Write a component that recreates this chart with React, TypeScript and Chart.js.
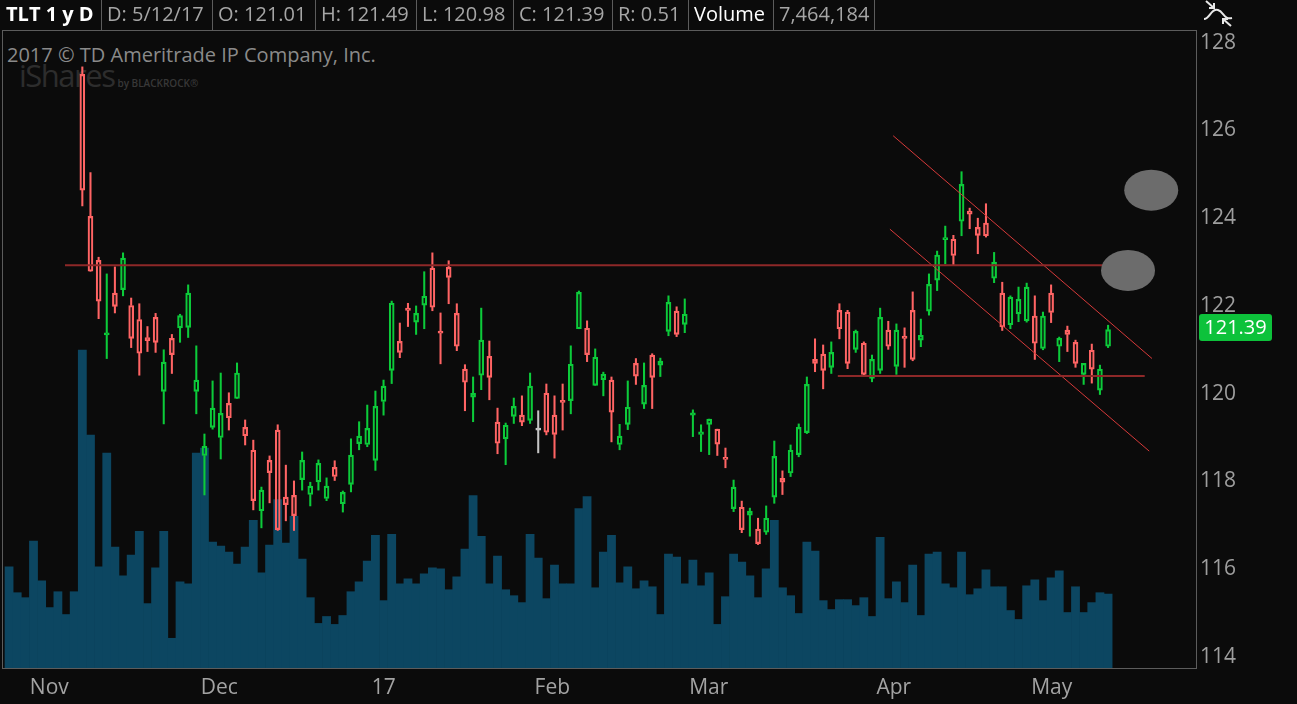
import React, { useEffect, useRef } from 'react';
import { Chart, registerables } from 'chart.js';

Chart.register(...registerables);

// TLT daily, 10/27/16 .. 5/12/17 (136 sessions). First 9 candles trade above 128 -> off the chart.
const lastDate = '5/12/17';

const opens = [
  null, null, null, null, null, null, null, null, null,
  127.21, 123.97, 122.97, 121.27, 122.22, 122.30, 121.94, 121.62, 121.21, 121.67,
  119.98, 121.19, 121.43, 121.44, 119.98, 118.52, 119.16, 118.93, 119.71, 119.82,
  119.16, 118.64, 117.26, 118.41, 119.10, 117.57, 117.61, 117.97, 117.63, 117.92,
  117.54, 118.25, 117.42, 117.86, 118.79, 118.77, 118.41, 119.75, 120.46, 121.12,
  121.88, 121.56, 121.95, 122.79, 121.34, 122.81, 121.76, 120.49, 119.85, 120.35,
  120.78, 119.28, 118.90, 119.41, 119.44, 119.32, 119.10, 119.94, 119.44, 119.76,
  119.77, 121.41, 121.42, 120.12, 120.25, 120.24, 118.77, 119.23, 120.62, 119.69,
  120.81, 120.58, 121.35, 121.81, 121.51, 119.44, 119.00, 119.23, 119.12, 118.48,
  117.31, 117.34, 117.16, 116.84, 116.77, 117.57, 118.00, 118.12, 118.54, 119.04,
  120.71, 120.83, 120.53, 121.83, 121.79, 120.94, 121.08, 120.28, 120.46, 121.38,
  120.55, 121.24, 121.83, 121.15, 121.81, 122.52, 123.44, 123.45, 123.86, 124.09,
  123.72, 123.82, 122.56, 122.22, 121.50, 121.75, 121.59, 121.70, 120.96, 122.22,
  121.01, 121.38, 121.10, 120.37, 120.92, 120.01, 121.01,
];

const highs = [
  null, null, null, null, null, null, null, null, null,
  127.38, 124.97, 123.04, 122.66, 122.82, 123.14, 122.11, 121.98, 121.46, 121.76,
  120.93, 121.28, 121.74, 122.41, 121.02, 119.01, 120.22, 120.40, 119.95, 120.63,
  119.33, 118.87, 117.80, 118.51, 119.22, 118.30, 117.94, 118.60, 117.91, 118.42,
  118.01, 118.40, 117.71, 118.90, 119.29, 119.67, 119.99, 120.24, 122.04, 121.54,
  121.99, 121.93, 122.71, 123.14, 121.77, 122.96, 121.98, 120.59, 120.31, 121.88,
  121.13, 119.60, 119.26, 119.83, 119.88, 120.40, 119.54, 120.15, 119.88, 120.15,
  121.02, 122.27, 121.59, 120.95, 120.42, 120.31, 119.23, 120.22, 120.73, 120.63,
  120.84, 120.74, 122.16, 121.91, 122.09, 119.56, 119.22, 119.35, 119.12, 118.69,
  117.96, 117.48, 117.32, 117.09, 117.37, 118.85, 118.17, 118.76, 119.24, 120.31,
  121.18, 121.04, 121.11, 121.98, 121.83, 121.38, 121.11, 120.81, 121.88, 121.58,
  121.52, 121.43, 122.25, 121.63, 122.66, 123.18, 123.75, 123.54, 124.99, 124.16,
  123.93, 124.26, 123.15, 122.47, 122.16, 122.36, 122.45, 122.16, 121.79, 122.41,
  121.22, 121.47, 121.15, 120.62, 121.06, 120.58, 121.49,
];

const lows = [
  null, null, null, null, null, null, null, null, null,
  124.21, 122.72, 121.64, 120.73, 121.77, 122.16, 120.98, 120.35, 120.89, 120.87,
  119.24, 120.39, 121.10, 121.21, 119.47, 117.62, 119.12, 118.44, 119.10, 119.82,
  118.76, 117.28, 116.87, 117.44, 116.81, 117.03, 116.81, 117.73, 117.37, 117.73,
  117.49, 117.95, 117.23, 117.69, 118.65, 118.72, 118.18, 119.44, 120.16, 120.75,
  121.46, 121.28, 121.41, 121.82, 120.61, 121.98, 120.91, 119.54, 119.29, 120.02,
  119.79, 118.56, 118.31, 119.25, 119.20, 119.25, 118.58, 118.99, 118.46, 119.10,
  119.47, 121.41, 120.66, 120.12, 119.88, 118.83, 118.65, 119.11, 120.14, 119.59,
  119.59, 120.32, 121.25, 121.23, 121.32, 118.95, 118.61, 118.54, 118.52, 118.24,
  117.24, 116.76, 116.68, 116.49, 116.72, 117.43, 117.63, 118.04, 118.49, 119.02,
  120.43, 120.04, 120.39, 121.18, 120.50, 120.87, 120.32, 120.20, 120.39, 120.94,
  120.37, 120.53, 120.68, 121.00, 121.72, 122.28, 122.89, 122.85, 123.53, 123.69,
  123.12, 123.50, 122.46, 121.37, 121.41, 121.57, 121.56, 120.71, 120.93, 121.55,
  120.66, 120.89, 120.53, 120.14, 120.17, 119.91, 120.98,
];

const closes = [
  null, null, null, null, null, null, null, null, null,
  124.57, 122.72, 122.04, 121.31, 121.92, 123.02, 121.19, 120.85, 121.14, 121.10,
  120.65, 120.82, 121.71, 122.22, 120.24, 118.73, 119.60, 119.48, 119.38, 120.40,
  118.97, 117.49, 117.73, 118.13, 116.83, 117.40, 117.15, 118.41, 117.82, 118.34,
  117.82, 118.04, 117.68, 118.53, 118.96, 119.14, 119.64, 120.10, 121.99, 120.87,
  121.83, 121.76, 122.15, 121.90, 121.31, 122.58, 121.01, 120.19, 119.94, 121.15,
  120.30, 118.80, 119.21, 119.64, 119.28, 120.10, 119.10, 119.05, 119.00, 119.73,
  120.60, 122.24, 120.82, 120.76, 120.37, 119.51, 118.96, 119.62, 120.33, 120.12,
  120.30, 120.67, 122.01, 121.28, 121.74, 119.49, 119.06, 119.35, 118.78, 118.43,
  117.80, 116.83, 117.25, 116.51, 117.09, 118.50, 117.91, 118.64, 119.16, 120.14,
  120.62, 120.46, 120.87, 121.41, 120.62, 121.35, 120.37, 120.71, 121.67, 121.01,
  121.38, 121.19, 120.71, 121.26, 122.42, 123.09, 123.48, 123.08, 124.70, 124.02,
  123.54, 123.53, 122.93, 121.45, 122.13, 122.08, 122.36, 121.08, 121.70, 121.78,
  121.19, 121.28, 120.62, 120.62, 120.49, 120.49, 121.39,
];

// volume in millions of shares
const volumesM = [
  10.2, 7.6, 7.1, 12.8, 8.8, 6.1, 7.7, 5.4, 7.7, 32.1,
  23.5, 10.2, 21.7, 12.2, 9.3, 11.4, 13.8, 6.5, 10.1, 13.8,
  3.0, 8.7, 8.5, 21.7, 22.2, 12.7, 12.3, 11.7, 10.5, 12.2,
  14.9, 9.6, 12.4, 17.0, 12.6, 15.3, 11.0, 7.1, 4.5, 5.2,
  4.4, 5.3, 7.7, 8.7, 10.8, 13.4, 6.8, 13.5, 8.5, 9.0,
  8.5, 9.5, 10.1, 10.0, 7.9, 9.2, 12.0, 17.4, 13.3, 8.5,
  11.3, 7.9, 7.3, 6.6, 13.5, 11.1, 7.0, 10.4, 8.5, 8.5,
  16.1, 17.3, 8.1, 11.7, 13.4, 8.6, 10.2, 8.0, 8.8, 8.2,
  5.4, 11.5, 11.2, 8.5, 10.9, 8.3, 9.6, 4.4, 7.2, 11.5,
  10.7, 9.3, 7.1, 10.0, 14.9, 8.1, 7.3, 5.5, 12.7, 11.8,
  6.8, 5.9, 6.9, 6.9, 6.3, 7.1, 5.2, 13.2, 7.0, 8.7,
  6.6, 10.4, 5.3, 11.5, 11.7, 8.5, 8.1, 11.7, 7.4, 8.0,
  9.9, 8.2, 8.2, 5.8, 4.9, 8.3, 8.9, 6.8, 9.1, 9.8,
  5.6, 8.2, 5.6, 6.6, 7.6, 7.464184,
];

// first session of each month (bar index) and its label
const monthIdx = [3, 24, 45, 65, 84, 107, 126];
const monthLabels = ['Nov', 'Dec', '17', 'Feb', 'Mar', 'Apr', 'May'];
const priceTicks = [114, 116, 118, 120, 122, 124, 126, 128];

// drawings: [bar index, price]
const resistance = [[6.87, 122.86], [138.7, 122.86]];
const support = [[101.8, 120.33], [139.5, 120.33]];
const channelTop = [[108.6, 125.81], [140.4, 120.73]];
const channelBottom = [[108.2, 123.68], [140.05, 118.62]];
const targets = [[140.3, 124.57], [137.45, 122.74]];

const UP = '#0ccb3a';
const DOWN = '#ff6464';
const FLAT = '#c4c4c4';
const VOL = '#0c4661';
const FONT = "'Open Sans', 'Noto Sans', sans-serif";

const last = closes.length - 1;

const candleColor = (i: number) =>
  (closes[i] as number) > (opens[i] as number) ? UP : (closes[i] as number) < (opens[i] as number) ? DOWN : FLAT;

const overlayPlugin = {
  id: 'overlay',
  afterDatasetsDraw(chart: any) {
    const { ctx, scales: { x, y } } = chart;
    ctx.save();
    ctx.fillStyle = '#6c6c6c';
    targets.forEach(([ix, p]) => {
      ctx.beginPath();
      ctx.ellipse(x.getPixelForValue(ix), y.getPixelForValue(p), 27, 20.5, 0, 0, Math.PI * 2);
      ctx.fill();
    });
    ctx.restore();
  },
  afterDraw(chart: any) {
    const { ctx, chartArea: a, scales: { y } } = chart;
    ctx.save();
    ctx.strokeStyle = '#5c5c5c';
    ctx.lineWidth = 1;
    ctx.strokeRect(a.left - 0.5, a.top - 0.5, a.right - a.left + 1, a.bottom - a.top + 1);

    const c = closes[last] as number;
    const cy = y.getPixelForValue(c) - 2;
    ctx.fillStyle = '#0dc23b';
    ctx.beginPath();
    ctx.roundRect(a.right + 3, cy - 13.5, 73, 27, 3);
    ctx.fill();
    ctx.fillStyle = '#ffffff';
    ctx.font = `20px ${FONT}`;
    ctx.textAlign = 'center';
    ctx.textBaseline = 'middle';
    ctx.fillText(c.toFixed(2), a.right + 39.5, cy + 1);
    ctx.restore();
  },
};

const toPts = (pts: number[][]) => pts.map(([x, y]) => ({ x, y }));

const TltChart: React.FC = () => {
  const canvasRef = useRef<HTMLCanvasElement>(null);
  const chartRef = useRef<any>(null);

  useEffect(() => {
    document.body.style.margin = '0';
    document.body.style.background = '#0b0b0b';
    if (chartRef.current) chartRef.current.destroy();
    if (!canvasRef.current) return;

    Chart.defaults.font.family = FONT;

    const idx = opens.map((_, i) => i).filter(i => opens[i] !== null);
    const colors = idx.map(candleColor);

    const bodies = idx.map(i => ({ x: i, y: [opens[i], closes[i]] }));
    const upperWicks = idx.map(i => ({ x: i, y: [Math.max(opens[i] as number, closes[i] as number), highs[i]] }));
    const lowerWicks = idx.map(i => ({ x: i, y: [lows[i], Math.min(opens[i] as number, closes[i] as number)] }));
    const volume = volumesM.map((v, i) => ({ x: i, y: v }));

    const line = (data: number[][], color: string, width: number) => ({
      type: 'line' as const,
      data: toPts(data),
      borderColor: color,
      borderWidth: width,
      pointRadius: 0,
      yAxisID: 'y',
      order: 0,
    });

    chartRef.current = new Chart(canvasRef.current, {
      type: 'bar',
      data: {
        datasets: [
          line(resistance, '#8e2828', 2),
          line(support, '#8e2828', 2),
          line(channelTop, '#d63a3a', 1),
          line(channelBottom, '#d63a3a', 1),
          {
            data: bodies as any,
            backgroundColor: 'rgba(0,0,0,0)',
            borderColor: colors,
            borderWidth: 1.5,
            borderSkipped: false,
            barThickness: 5,
            minBarLength: 2,
            grouped: false,
            yAxisID: 'y',
            order: 1,
          },
          {
            data: upperWicks as any,
            backgroundColor: colors,
            borderWidth: 0,
            barThickness: 1.4,
            grouped: false,
            yAxisID: 'y',
            order: 2,
          },
          {
            data: lowerWicks as any,
            backgroundColor: colors,
            borderWidth: 0,
            barThickness: 1.4,
            grouped: false,
            yAxisID: 'y',
            order: 2,
          },
          {
            data: volume as any,
            backgroundColor: VOL,
            borderWidth: 0,
            barPercentage: 1,
            categoryPercentage: 1,
            grouped: false,
            yAxisID: 'yv',
            order: 3,
          },
        ] as any,
      },
      options: {
        animation: false,
        responsive: false,
        events: [],
        layout: { padding: { left: 3, top: 31, right: 0, bottom: 0 } },
        plugins: { legend: { display: false }, tooltip: { enabled: false } },
        scales: {
          x: {
            type: 'linear',
            min: -0.745,
            max: 145.8,
            offset: false,
            grid: { display: false, drawTicks: false },
            border: { display: false },
            afterBuildTicks: (s: any) => { s.ticks = monthIdx.map(i => ({ value: i - 0.45 })); },
            afterFit: (s: any) => { s.height = 36; },
            ticks: {
              autoSkip: false,
              maxRotation: 0,
              minRotation: 0,
              align: 'start',
              padding: 7,
              color: '#a3a3a3',
              font: { size: 21 },
              callback: (_v: any, i: number) => monthLabels[i],
            },
          },
          y: {
            type: 'linear',
            position: 'right',
            min: 113.675,
            max: 128.198,
            grid: { display: false, drawTicks: false },
            border: { display: false },
            afterBuildTicks: (s: any) => { s.ticks = priceTicks.map(v => ({ value: v })); },
            afterFit: (s: any) => { s.width = 101; },
            ticks: {
              padding: 4,
              labelOffset: 3,
              color: '#9e9e9e',
              font: { size: 21 },
              callback: (v: any) => String(v),
            },
          },
          yv: { type: 'linear', display: false, min: 0, max: 64.3 },
        },
      } as any,
      plugins: [overlayPlugin],
    });

    return () => {
      if (chartRef.current) chartRef.current.destroy();
      chartRef.current = null;
    };
  }, []);

  const o = opens[last] as number;
  const h = highs[last] as number;
  const l = lows[last] as number;
  const c = closes[last] as number;
  const header = [
    { text: 'TLT 1 y D', w: 102, bold: true, color: '#ffffff' },
    { text: `D: ${lastDate}`, w: 111 },
    { text: `O: ${o.toFixed(2)}`, w: 103 },
    { text: `H: ${h.toFixed(2)}`, w: 101 },
    { text: `L: ${l.toFixed(2)}`, w: 97 },
    { text: `C: ${c.toFixed(2)}`, w: 99 },
    { text: `R: ${(h - l).toFixed(2)}`, w: 76 },
    { text: 'Volume', w: 85, color: '#ffffff' },
    { text: Math.round(volumesM[last] * 1e6).toLocaleString('en-US'), w: 101 },
  ];

  return (
    <div style={{ position: 'relative', width: 1297, height: 704, background: '#0b0b0b', overflow: 'hidden', fontFamily: FONT }}>
      <div style={{ position: 'absolute', left: 7, top: 41, fontSize: 20, lineHeight: '27px', color: '#8a8a8a', whiteSpace: 'nowrap' }}>
        2017 © TD Ameritrade IP Company, Inc.
      </div>
      <div style={{ position: 'absolute', left: 19, top: 57, whiteSpace: 'nowrap', color: '#2d2d2d' }}>
        <span style={{ fontSize: 31, letterSpacing: '-1.5px', lineHeight: '36px' }}>iShares</span>
        <span style={{ fontSize: 10, marginLeft: 3, fontWeight: 600, color: '#383838' }}>by BLACKROCK®</span>
      </div>
      <canvas ref={canvasRef} width={1297} height={704} style={{ position: 'absolute', left: 0, top: 0 }} />
      <div style={{ position: 'absolute', left: 0, top: 0, height: 31, display: 'flex', whiteSpace: 'nowrap' }}>
        {header.map((cell, i) => (
          <div
            key={i}
            style={{
              width: cell.w,
              height: 31,
              boxSizing: 'border-box',
              borderRight: '1px solid #5c5c5c',
              paddingLeft: i === 0 ? 6 : 5,
              fontSize: 20,
              lineHeight: '27px',
              fontWeight: cell.bold ? 700 : 400,
              color: cell.color || '#a6a6a6',
            }}
          >
            {cell.text}
          </div>
        ))}
      </div>
      <svg width={32} height={28} style={{ position: 'absolute', left: 1202, top: 0 }} fill="none" stroke="#e8e8e8" strokeWidth={2}>
        <path d="M4 1 L12 8" />
        <path d="M7 8 L12 8 L12 3" />
        <path d="M2 19 C 8 19, 9 8, 16 10 C 22 12, 22 20, 30 18" />
        <path d="M29 26 L21 19" />
        <path d="M21 24 L21 19 L26 19" />
      </svg>
    </div>
  );
};

export default function App() {
  return <TltChart />;
}
